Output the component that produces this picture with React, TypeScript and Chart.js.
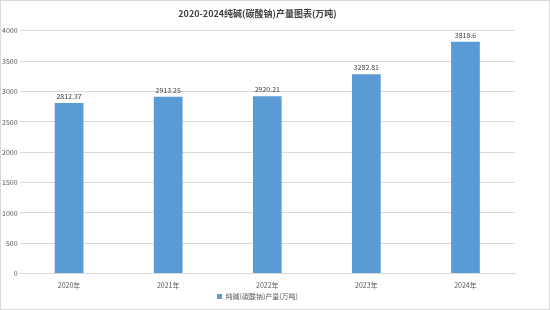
import React, { useEffect, useRef } from "react";
import { Chart, registerables } from "chart.js";
Chart.register(...registerables);

const categories = ["2020年", "2021年", "2022年", "2023年", "2024年"];
const values = [2812.37, 2913.25, 2920.21, 3282.81, 3818.6];
const labels = ["2812.37", "2913.25", "2920.21", "3282.81", "3818.6"];
const seriesName = "纯碱(碳酸钠)产量(万吨)";
const titleText = "2020-2024纯碱(碳酸钠)产量图表(万吨)";

const FONT = "'Noto Sans CJK SC', 'DejaVu Sans', sans-serif";

const valueLabels = {
  id: "valueLabels",
  afterDatasetsDraw(chart: any) {
    const ctx = chart.ctx;
    const meta = chart.getDatasetMeta(0);
    ctx.save();
    ctx.font = `7px ${FONT}`;
    ctx.fillStyle = "#404040";
    ctx.textAlign = "center";
    ctx.textBaseline = "bottom";
    meta.data.forEach((bar: any, i: number) => {
      ctx.fillText(labels[i], bar.x, bar.y - 3);
    });
    ctx.restore();
  },
};

const frame = {
  id: "frame",
  beforeDraw(chart: any) {
    const ctx = chart.ctx;
    ctx.save();
    ctx.fillStyle = "#ffffff";
    ctx.fillRect(0, 0, chart.width, chart.height);
    ctx.strokeStyle = "#d9d9d9";
    ctx.lineWidth = 1;
    ctx.strokeRect(0.5, 0.5, chart.width - 1, chart.height - 1);
    ctx.restore();
  },
};

export default function App() {
  const ref = useRef<HTMLCanvasElement>(null);
  useEffect(() => {
    document.body.style.margin = "0";
    const chart = new Chart(ref.current!, {
      type: "bar",
      data: {
        labels: categories,
        datasets: [
          {
            label: seriesName,
            data: values,
            backgroundColor: "#5b9bd5",
            barPercentage: 0.29,
            categoryPercentage: 1,
          },
        ],
      },
      options: {
        animation: false,
        responsive: false,
        maintainAspectRatio: false,
        layout: { padding: { left: 0, right: 35, top: 6, bottom: 0 } },
        plugins: {
          title: {
            display: true,
            text: titleText,
            color: "#404040",
            font: { family: FONT, size: 9, weight: "bold" },
            padding: { top: 2, bottom: 12 },
          },
          legend: {
            position: "bottom",
            labels: {
              boxWidth: 5,
              boxHeight: 5,
              color: "#595959",
              font: { family: FONT, size: 7 },
              padding: 3,
            },
          },
          tooltip: { enabled: false },
        },
        scales: {
          x: {
            grid: { display: false },
            border: { display: true, color: "#d9d9d9" },
            ticks: { color: "#595959", font: { family: FONT, size: 7 }, padding: 0 },
          },
          y: {
            min: 0,
            max: 4000,
            ticks: {
              stepSize: 500,
              color: "#595959",
              font: { family: FONT, size: 7 },
              padding: 2,
              callback: (v: any) => String(v),
            },
            grid: { color: "#d9d9d9", drawTicks: false },
            border: { display: false },
          },
        },
      },
      plugins: [frame, valueLabels],
    });
    return () => chart.destroy();
  }, []);
  return <canvas ref={ref} width={550} height={310} style={{ display: "block" }} />;
}
